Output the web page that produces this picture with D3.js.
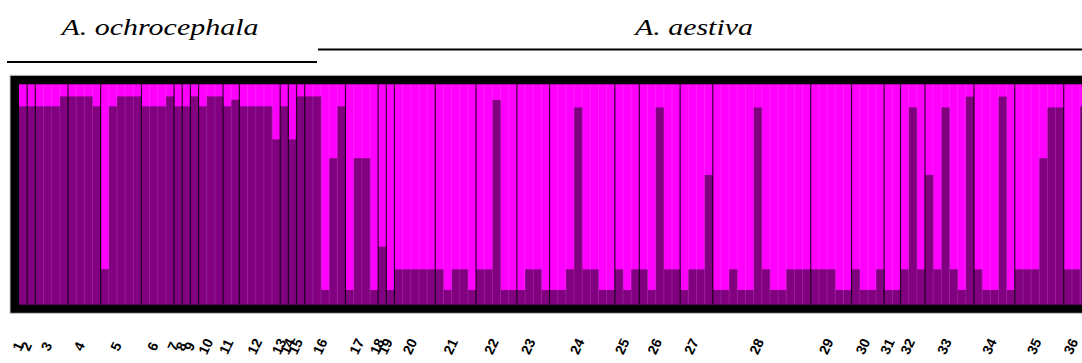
<!DOCTYPE html>
<html>
<head>
<meta charset="utf-8">
<script src="https://cdn.jsdelivr.net/npm/d3@7"></script>
<style>
  html, body { margin: 0; padding: 0; background: #fff; }
  svg { display: block; }
</style>
</head>
<body>
<svg id="chart"></svg>
<script>
// Population labels along the bottom
const popLabels = ['1','2','3','4','5','6','7','8','9','10','11','12','13','14','15','16','17','18',
  '19','20','21','22','23','24','25','26','27','28','29','30','31','32','33','34','35','36'];

// Number of individuals in each population
const popSizes = [1, 1, 4, 4, 5, 4, 1, 1, 1, 3, 2, 5, 1, 1, 1, 5, 4, 1, 1, 5, 5, 5, 4, 8, 3, 5, 4, 12, 5, 4, 2, 3, 6, 5, 6, 4];

// Membership coefficient of each individual in the dark (purple) cluster; the rest is magenta
const qDark = [
  0.90, 0.90, 0.90, 0.90, 0.90, 0.945, 0.945, 0.945, 0.945, 0.90,
  0.16, 0.90, 0.945, 0.945, 0.945, 0.90, 0.90, 0.90, 0.945, 0.90,
  0.90, 0.945, 0.90, 0.945, 0.945, 0.90, 0.93, 0.90, 0.90, 0.90,
  0.90, 0.75, 0.90, 0.75, 0.945, 0.945, 0.945, 0.065, 0.664, 0.90,
  0.065, 0.664, 0.664, 0.065, 0.262, 0.065, 0.159, 0.159, 0.159, 0.159,
  0.159, 0.159, 0.065, 0.159, 0.159, 0.065, 0.159, 0.159, 0.929, 0.065,
  0.065, 0.065, 0.159, 0.159, 0.065, 0.065, 0.065, 0.159, 0.895, 0.159,
  0.159, 0.065, 0.065, 0.159, 0.065, 0.159, 0.159, 0.065, 0.895, 0.159,
  0.159, 0.065, 0.159, 0.159, 0.588, 0.065, 0.065, 0.159, 0.065, 0.065,
  0.895, 0.159, 0.065, 0.065, 0.159, 0.159, 0.159, 0.159, 0.159, 0.159,
  0.065, 0.065, 0.159, 0.065, 0.065, 0.159, 0.065, 0.065, 0.159, 0.895,
  0.159, 0.588, 0.159, 0.895, 0.159, 0.065, 0.944, 0.159, 0.065, 0.065,
  0.944, 0.065, 0.159, 0.159, 0.159, 0.664, 0.895, 0.895, 0.159, 0.159,
  0.90, 0.90
];

const speciesNames = ['A. ochrocephala', 'A. aestiva'];

const W = 1082, H = 363;
const plot = { left: 19, top: 84.3, bottom: 304.3, indWidth: 8.162, border: 9 };
const colors = { dark: '#800080', light: '#ff00ff' };

const svg = d3.select('#chart').attr('width', W).attr('height', H);

const n = qDark.length;
const x = d3.scaleBand()
  .domain(d3.range(n))
  .range([plot.left, plot.left + n * plot.indWidth])
  .padding(0);

const y = d3.scaleLinear().domain([0, 1]).range([plot.bottom, plot.top]);

// population start index for each pop
const popStarts = d3.cumsum([0, ...popSizes]).slice(0, popSizes.length);

// black frame (with faint grey outer edge)
svg.append('rect')
  .attr('x', plot.left - plot.border)
  .attr('y', plot.top - plot.border)
  .attr('width', W)
  .attr('height', plot.bottom - plot.top + 2 * plot.border)
  .attr('fill', '#000')
  .attr('stroke', '#c8c8c8')
  .attr('stroke-width', 1);

const inner = svg.append('g');

// magenta background, then purple bars on top
inner.append('rect')
  .attr('x', x(0))
  .attr('y', y(1))
  .attr('width', x.bandwidth() * n)
  .attr('height', y(0) - y(1))
  .attr('fill', colors.light);

inner.selectAll('rect.dark')
  .data(qDark)
  .join('rect')
  .attr('class', 'dark')
  .attr('x', (d, i) => x(i))
  .attr('y', (d) => y(d))
  .attr('width', x.bandwidth() + 0.3)
  .attr('height', (d) => y(0) - y(d))
  .attr('fill', colors.dark);

// faint separators between individuals
inner.selectAll('line.ind')
  .data(d3.range(1, n).filter((i) => !popStarts.includes(i)))
  .join('line')
  .attr('class', 'ind')
  .attr('x1', (i) => x(i)).attr('x2', (i) => x(i))
  .attr('y1', y(1)).attr('y2', y(0))
  .attr('stroke', '#fff')
  .attr('stroke-opacity', 0.12)
  .attr('stroke-width', 1);

// dark separators between populations
inner.selectAll('line.pop')
  .data(popStarts.slice(1))
  .join('line')
  .attr('class', 'pop')
  .attr('x1', (i) => x(i)).attr('x2', (i) => x(i))
  .attr('y1', y(1)).attr('y2', y(0))
  .attr('stroke', '#000')
  .attr('stroke-opacity', 0.8)
  .attr('stroke-width', 1.2);

// population labels, rotated
svg.append('g')
  .selectAll('text')
  .data(popLabels)
  .join('text')
  .attr('transform', (d, i) => {
    const cx = Math.min(x(popStarts[i]) + (popSizes[i] * x.bandwidth()) / 2 - 4, W - 10);
    return `translate(${cx},347) rotate(-65)`;
  })
  .attr('text-anchor', 'middle')
  .attr('dominant-baseline', 'middle')
  .style('font-family', '"Liberation Sans", Arial, sans-serif')
  .style('font-size', '14px')
  .style('font-weight', '600')
  .attr('fill', '#000')
  .text((d) => d);

// species header
const header = [
  { name: speciesNames[0], cx: 160, len: 197, x1: 7, x2: 317, ly: 62 },
  { name: speciesNames[1], cx: 694, len: 118, x1: 318, x2: W, ly: 49.5 },
];

const hg = svg.append('g');
hg.selectAll('text')
  .data(header)
  .join('text')
  .attr('x', (d) => d.cx - d.len / 2)
  .attr('y', 35)
  .attr('textLength', (d) => d.len)
  .attr('lengthAdjust', 'spacingAndGlyphs')
  .style('font-family', '"Liberation Serif", "Times New Roman", serif')
  .style('font-style', 'italic')
  .style('font-size', '23px')
  .attr('fill', '#000')
  .text((d) => d.name);

hg.selectAll('line')
  .data(header)
  .join('line')
  .attr('x1', (d) => d.x1).attr('x2', (d) => d.x2)
  .attr('y1', (d) => d.ly).attr('y2', (d) => d.ly)
  .attr('stroke', '#000')
  .attr('stroke-width', 2);
</script>
</body>
</html>
